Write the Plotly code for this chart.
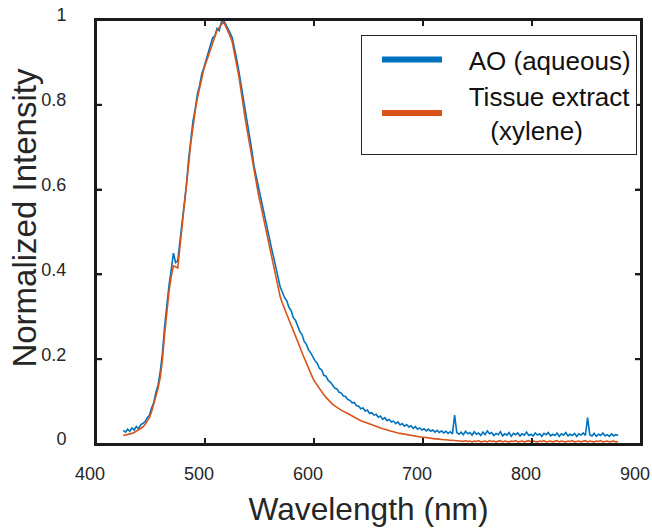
import numpy as np
import plotly.graph_objects as go

# Wavelength grid (nm): 425 .. 879 in 2 nm steps
wl_start = 425
wl_step = 2

# AO (aqueous) normalized intensity
ao_aqueous = [
    0.032, 0.028, 0.035, 0.030, 0.038, 0.033, 0.041, 0.036, 0.045, 0.048,   # 425-443
    0.052, 0.062, 0.068, 0.085, 0.098, 0.122, 0.140, 0.172, 0.215, 0.278,   # 445-463
    0.330, 0.375, 0.410, 0.450, 0.428, 0.432, 0.478, 0.520, 0.568, 0.612,   # 465-483
    0.672, 0.718, 0.762, 0.790, 0.825, 0.845, 0.872, 0.888, 0.905, 0.925,   # 485-503
    0.938, 0.958, 0.962, 0.980, 0.975, 0.995, 1.000, 0.990, 0.982, 0.970,   # 505-523
    0.958, 0.935, 0.908, 0.880, 0.850, 0.815, 0.782, 0.752, 0.720, 0.692,   # 525-543
    0.655, 0.630, 0.605, 0.582, 0.558, 0.530, 0.510, 0.485, 0.462, 0.440,   # 545-563
    0.415, 0.392, 0.370, 0.358, 0.345, 0.338, 0.322, 0.315, 0.298, 0.292,   # 565-583
    0.280, 0.265, 0.258, 0.242, 0.235, 0.222, 0.215, 0.205, 0.196, 0.190,   # 585-603
    0.178, 0.175, 0.162, 0.160, 0.150, 0.146, 0.140, 0.132, 0.130, 0.122,   # 605-623
    0.120, 0.113, 0.112, 0.105, 0.103, 0.097, 0.098, 0.090, 0.089, 0.083,   # 625-643
    0.085, 0.078, 0.080, 0.072, 0.074, 0.068, 0.070, 0.063, 0.066, 0.058,   # 645-663
    0.062, 0.055, 0.058, 0.052, 0.054, 0.048, 0.052, 0.045, 0.048, 0.042,   # 665-683
    0.046, 0.040, 0.043, 0.037, 0.041, 0.035, 0.038, 0.033, 0.036, 0.031,   # 685-703
    0.035, 0.030, 0.033, 0.028, 0.032, 0.027, 0.031, 0.026, 0.030, 0.025,   # 705-723
    0.029, 0.024, 0.068, 0.027, 0.023,                                      # 725-733
    0.028, 0.022, 0.030, 0.024, 0.027, 0.021, 0.029, 0.023, 0.026, 0.020,   # 735-753
    0.028, 0.022, 0.031, 0.024, 0.027, 0.020, 0.025, 0.022, 0.029, 0.019,   # 755-773
    0.024, 0.021, 0.027, 0.018, 0.025, 0.022, 0.026, 0.019, 0.024, 0.021,   # 775-793
    0.028, 0.020, 0.023, 0.019, 0.026, 0.021, 0.024, 0.018, 0.025, 0.022,   # 795-813
    0.027, 0.019, 0.023, 0.020, 0.026, 0.018, 0.024, 0.021, 0.027, 0.019,   # 815-833
    0.023, 0.020, 0.025, 0.018, 0.024, 0.021, 0.026, 0.020, 0.062, 0.022,   # 835-853
    0.019, 0.025, 0.018, 0.023, 0.020, 0.026, 0.019, 0.022, 0.018, 0.024,   # 855-873
    0.019, 0.022, 0.020,                                                    # 875-879
]

# Tissue extract (xylene) normalized intensity
tissue_xylene = [
    0.020, 0.021, 0.022, 0.023, 0.025, 0.027, 0.030, 0.032, 0.035, 0.040,   # 425-443
    0.046, 0.053, 0.062, 0.076, 0.093, 0.110, 0.132, 0.158, 0.200, 0.260,   # 445-463
    0.315, 0.360, 0.395, 0.420, 0.418, 0.415, 0.465, 0.510, 0.555, 0.600,   # 465-483
    0.660, 0.710, 0.750, 0.785, 0.815, 0.840, 0.865, 0.885, 0.900, 0.915,   # 485-503
    0.935, 0.950, 0.965, 0.975, 0.982, 0.990, 0.996, 0.985, 0.975, 0.962,   # 505-523
    0.948, 0.925, 0.895, 0.868, 0.838, 0.800, 0.765, 0.735, 0.705, 0.675,   # 525-543
    0.640, 0.612, 0.588, 0.565, 0.540, 0.515, 0.492, 0.468, 0.445, 0.420,   # 545-563
    0.395, 0.370, 0.347, 0.332, 0.318, 0.305, 0.292, 0.280, 0.268, 0.256,   # 565-583
    0.244, 0.230, 0.216, 0.203, 0.190, 0.178, 0.166, 0.155, 0.146, 0.138,   # 585-603
    0.130, 0.123, 0.116, 0.110, 0.104, 0.099, 0.094, 0.090, 0.086, 0.083,   # 605-623
    0.080, 0.077, 0.075, 0.072, 0.069, 0.066, 0.063, 0.060, 0.058, 0.055,   # 625-643
    0.053, 0.051, 0.049, 0.047, 0.045, 0.043, 0.041, 0.040, 0.038, 0.036,   # 645-663
    0.035, 0.033, 0.031, 0.030, 0.029, 0.027, 0.026, 0.025, 0.024, 0.023,   # 665-683
    0.022, 0.021, 0.020, 0.019, 0.018, 0.018, 0.017, 0.016, 0.016, 0.015,   # 685-703
    0.014, 0.014, 0.013, 0.012, 0.012, 0.011, 0.011, 0.010, 0.010, 0.009,   # 705-723
    0.009, 0.009, 0.008, 0.008, 0.007,                                      # 725-733
    0.007, 0.006, 0.008, 0.006, 0.007, 0.005, 0.007, 0.006, 0.008, 0.005,   # 735-753
    0.006, 0.007, 0.005, 0.008, 0.006, 0.007, 0.005, 0.006, 0.008, 0.005,   # 755-773
    0.007, 0.006, 0.005, 0.007, 0.006, 0.008, 0.005, 0.006, 0.007, 0.005,   # 775-793
    0.006, 0.008, 0.005, 0.007, 0.006, 0.005, 0.007, 0.006, 0.008, 0.005,   # 795-813
    0.006, 0.007, 0.005, 0.006, 0.008, 0.005, 0.007, 0.006, 0.005, 0.007,   # 815-833
    0.006, 0.008, 0.005, 0.006, 0.007, 0.005, 0.006, 0.008, 0.005, 0.007,   # 835-853
    0.006, 0.005, 0.007, 0.006, 0.008, 0.005, 0.006, 0.007, 0.005, 0.006,   # 855-873
    0.007, 0.005, 0.006,                                                    # 875-879
]

legend_labels = ["&nbsp;&nbsp;&nbsp;AO (aqueous)",
                 "&nbsp;&nbsp;&nbsp;Tissue extract<br>&nbsp;&nbsp;&nbsp;&nbsp;&nbsp;&nbsp;(xylene)"]
series_colors = ["#0072BD", "#D95319"]
x_range = [400, 900]
y_range = [0, 1]
x_ticks = [400, 500, 600, 700, 800, 900]
y_ticks = [0, 0.2, 0.4, 0.6, 0.8, 1]
x_title = "Wavelength (nm)"
y_title = "Normalized Intensity"

wl_ao = wl_start + wl_step * np.arange(len(ao_aqueous))
wl_tx = wl_start + wl_step * np.arange(len(tissue_xylene))

FONT = "Liberation Sans, Arial, sans-serif"
AXC = "#262626"
FRAME = "#1a1a1a"
W, H = 652, 531
ML, MR, MT, MB = 96, 11, 20, 87
TICKLEN = 6
dx = TICKLEN * (x_range[1] - x_range[0]) / (W - ML - MR)
dy = TICKLEN * (y_range[1] - y_range[0]) / (H - MT - MB)

fig = go.Figure()
for xs, ys, col in [(wl_ao, ao_aqueous, series_colors[0]),
                    (wl_tx, tissue_xylene, series_colors[1])]:
    fig.add_trace(go.Scatter(x=xs, y=ys, mode="lines",
                             line=dict(color=col, width=1.6), showlegend=False))

# axes box and inward ticks on all sides, derived from the axis ranges and tick lists
fx = [x_range[0], x_range[1], x_range[1], x_range[0], x_range[0]]
fy = [y_range[0], y_range[0], y_range[1], y_range[1], y_range[0]]
tx, ty = [], []
for t in x_ticks:
    tx += [t, t, None, t, t, None]
    ty += [y_range[0], y_range[0] + dy, None, y_range[1], y_range[1] - dy, None]
for t in y_ticks:
    tx += [x_range[0], x_range[0] + dx, None, x_range[1], x_range[1] - dx, None]
    ty += [t, t, None, t, t, None]
fig.add_trace(go.Scatter(x=tx, y=ty, mode="lines", line=dict(color=FRAME, width=2),
                         showlegend=False, hoverinfo="skip", cliponaxis=False))
fig.add_trace(go.Scatter(x=fx, y=fy, mode="lines", line=dict(color=FRAME, width=2),
                         showlegend=False, hoverinfo="skip", cliponaxis=False))

# thick legend keys
for name, col in zip(legend_labels, series_colors):
    fig.add_trace(go.Scatter(x=[None], y=[None], mode="lines", name=name,
                             line=dict(color=col, width=6), showlegend=True))

axis_common = dict(showline=True, linecolor=FRAME, linewidth=2, mirror="ticks",
                   ticks="inside", ticklen=TICKLEN, tickwidth=2, tickcolor=FRAME,
                   showgrid=False, zeroline=False,
                   tickfont=dict(family=FONT, size=18, color=AXC))

fig.update_layout(
    width=W, height=H,
    margin=dict(l=ML, r=MR, t=MT, b=MB, autoexpand=False),
    paper_bgcolor="white", plot_bgcolor="white",
    font=dict(family=FONT, color=AXC),
    xaxis=dict(range=x_range, tickvals=x_ticks, ticklabelshift=-6, ticklabelstandoff=12,
               title=dict(text=x_title, font=dict(size=31.7, color=AXC), standoff=15),
               **axis_common),
    yaxis=dict(range=y_range, tickvals=y_ticks, ticklabelshift=-5, ticklabelstandoff=24,
               **axis_common),
    legend=dict(x=0.9927, y=0.9646, xanchor="right", yanchor="top",
                bordercolor=AXC, borderwidth=1, bgcolor="white",
                font=dict(family=FONT, size=26, color="#111"),
                itemwidth=60, tracegroupgap=0, indentation=15),
    annotations=[dict(text=y_title, xref="paper", yref="paper", x=-0.1303, y=0.534,
                      xanchor="center", yanchor="middle", textangle=-90, showarrow=False,
                      font=dict(family=FONT, size=33, color=AXC))],
)

fig.write_html("out.html", config={"displayModeBar": False},
               post_script="document.body.style.margin='0';document.body.style.padding='0';")
